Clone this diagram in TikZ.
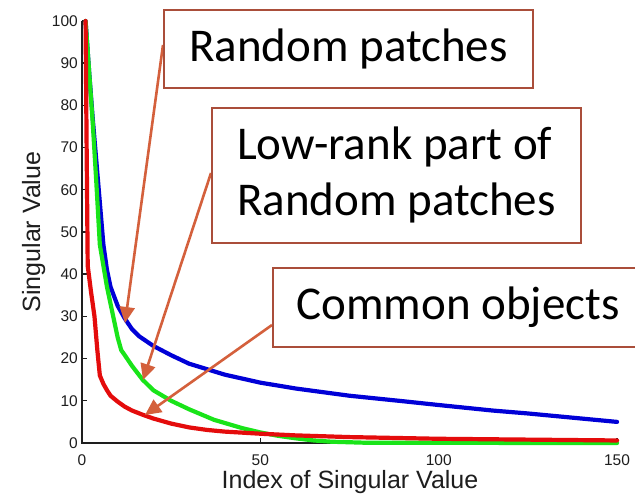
\documentclass[tikz,border=0pt]{standalone}
\usepackage{fontspec}
\setmainfont{Carlito}
\newfontfamily\plotfont{Liberation Sans}
\usetikzlibrary{arrows.meta}
\definecolor{boxc}{RGB}{170,78,58}
\definecolor{arrc}{RGB}{212,96,60}
\definecolor{cblue}{RGB}{0,0,215}
\definecolor{cgreen}{RGB}{25,228,25}
\definecolor{cred}{RGB}{228,12,12}
\definecolor{axc}{RGB}{30,30,30}
\begin{document}
\begin{tikzpicture}[x=1pt,y=-1pt,
  lbl/.style={draw=boxc,line width=1.9pt,fill=white,font=\fontsize{47}{56}\selectfont,inner sep=0pt,anchor=north west,align=left},
  callout/.style={draw=arrc,line width=2.6pt,-{Triangle[length=16pt,width=15pt]}},
  curve/.style={line width=4.2pt,line join=round,line cap=round},
  ticklbl/.style={font=\plotfont\fontsize{15.5}{15.5}\selectfont,text=axc,inner sep=1pt},
  axlabel/.style={font=\plotfont\fontsize{25}{25}\selectfont,text=axc,inner sep=0pt},
  axline/.style={draw=axc,line width=1.4pt}]
\useasboundingbox (0,0) rectangle (635,494);
\fill[white] (0,0) rectangle (635,494);
% axes
\draw[axline] (82,21) -- (82,443) -- (617,443);
\foreach \v in {10,20,...,100} {
  \draw[axline] (82,{443-4.22*\v}) -- (87,{443-4.22*\v});
  \node[ticklbl,anchor=east] at (79,{443-4.22*\v}) {\v};
}
\node[ticklbl,anchor=east] at (79,443) {0};
\node[ticklbl] at (82,460) {0};
\foreach \i in {50,100,150} {
  \draw[axline] ({82+3.567*\i},443) -- ({82+3.567*\i},438);
  \node[ticklbl] at ({82+3.567*\i},460) {\i};
}
\node[axlabel,anchor=base] (xlab) at (350,488) {Index of Singular Value};
\node[axlabel,rotate=90,anchor=base] (ylab) at (40,232) {Singular Value};
% curves
\begin{scope}[shift={(82,443)},x=3.567pt,y=4.22pt]
\draw[curve,cblue] plot coordinates {(1,100)(2,88)(3,77)(4,67)(5,57)(6,47)(7,41)(8,37)(10,32.5)(12,29.5)(14,27)(16,25.3)(20,23)(25,20.8)(30,18.8)(35,17.5)(40,16.2)(50,14.3)(60,12.9)(75,11.2)(90,9.9)(100,9)(115,7.7)(125,7)(140,5.8)(150,5)};
\draw[curve,cgreen] plot coordinates {(1,100)(2,88)(3,76)(4,62)(5,47)(6,42)(7,37)(8,33)(9,29)(10,25)(11,22)(12,20.8)(14,18.3)(17,15)(20,12.5)(25,10)(30,8)(37,5.5)(45,3.5)(50,2.5)(55,1.7)(60,1.1)(65,0.6)(70,0.3)(80,0.05)(150,0)};
\draw[curve,cred] plot coordinates {(1,100)(1.3,70)(1.6,42)(2.5,36)(3.5,30)(4.3,22)(5,16)(6,14)(7,12.5)(8,11.2)(10,9.8)(12,8.6)(14,7.7)(17,6.7)(20,5.8)(25,4.6)(30,3.7)(35,3.1)(40,2.7)(50,2.2)(60,1.8)(75,1.4)(100,1)(125,0.8)(150,0.6)};
\end{scope}
% callouts
\coordinate (s1) at (163,45);
\coordinate (t1) at (125,323);
\coordinate (s2) at (211,173);
\coordinate (t2) at (143,380);
\coordinate (s3) at (272,325);
\coordinate (t3) at (145,415);
\draw[callout] (s1) -- (t1);
\draw[callout] (s2) -- (t2);
\draw[callout] (s3) -- (t3);
% boxes
\node[lbl,minimum width=369pt,minimum height=78pt] (b1) at (163,9) {Random patches};
\node[lbl,minimum width=369pt,minimum height=135pt] (b2) at (211,107) {Low-rank part of\\Random patches};
\node[lbl,minimum width=370pt,minimum height=79pt] (b3) at (272,267) {Common objects};
\end{tikzpicture}
\end{document}
